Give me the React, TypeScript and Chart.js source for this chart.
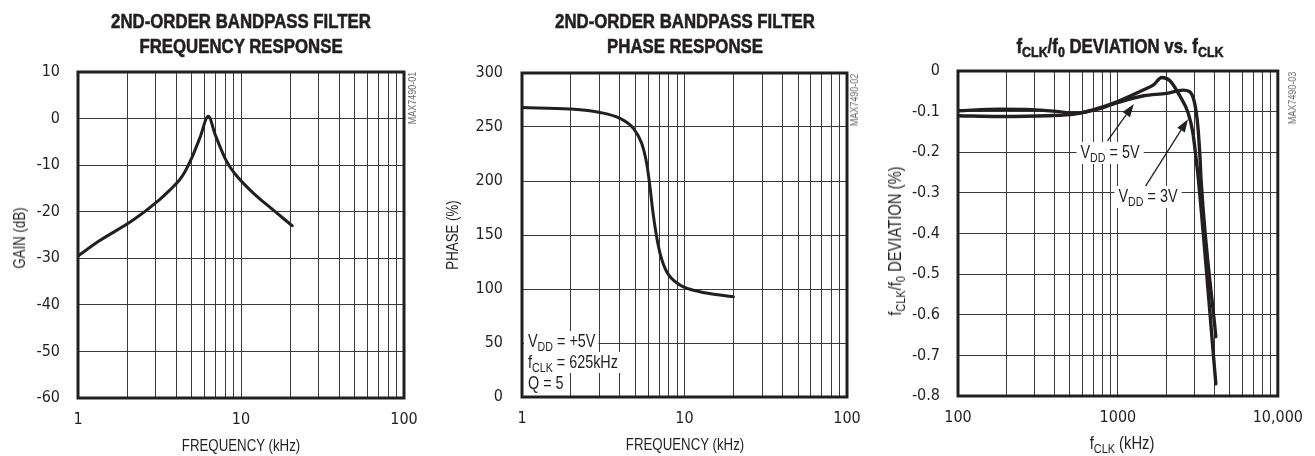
import React, { useEffect, useRef } from 'react';
import { Chart, registerables } from 'chart.js';

Chart.register(...registerables);

// ---------- data ----------
// Chart 1: gain vs frequency
const GAIN_FREQ_KHZ = [1, 1.36, 2.18, 3.14, 3.67, 4.19, 4.53, 4.98, 5.6, 6.3, 6.97, 8.0, 8.6, 9.56, 11.9, 14.4, 20.6];
const GAIN_DB = [-29.5, -26.2, -21.8, -17.5, -15.3, -13.2, -11.4, -8.5, -4.1, 0.5, -3.6, -8.6, -10.5, -12.6, -16.0, -18.5, -23.0];

// Chart 2: phase vs frequency
const PHASE_FREQ_KHZ = [1, 1.97, 3.02, 4.01, 4.84, 5.45, 5.85, 6.13, 6.37, 6.68, 7.07, 7.77, 9.38, 12.45, 16.5, 20];
const PHASE_VAL = [268, 266.7, 263.5, 258, 248.8, 235, 216.4, 194.8, 173, 151.6, 133, 116, 103.7, 97.5, 94.4, 92.8];

// Chart 3: fCLK/f0 deviation vs fCLK
const DEV_3V_FCLK = [100, 181, 289, 424, 537, 748, 993, 1450, 1670, 1880, 2115, 2436, 2743, 2943, 3085, 3187, 4096];
const DEV_3V_PCT = [-0.098, -0.094, -0.095, -0.1, -0.104, -0.092, -0.075, -0.046, -0.034, -0.016, -0.024, -0.061, -0.102, -0.152, -0.217, -0.267, -0.77];
const DEV_5V_FCLK = [100, 181, 368, 537, 748, 993, 1450, 2018, 2553, 2805, 3010, 3160, 3265, 3310, 4096];
const DEV_5V_PCT = [-0.11, -0.112, -0.11, -0.106, -0.094, -0.078, -0.061, -0.055, -0.047, -0.051, -0.077, -0.135, -0.217, -0.267, -0.654];

// tick values / labels
const FREQ_TICKS_KHZ = [1, 2, 3, 4, 5, 6, 7, 8, 9, 10, 20, 30, 40, 50, 60, 70, 80, 90, 100];
const FREQ_TICK_LABELS: Record<number, string> = { 1: '1', 10: '10', 100: '100' };
const FCLK_TICKS_KHZ = [100, 200, 300, 400, 500, 600, 700, 800, 900, 1000, 2000, 3000, 4000, 5000, 6000, 7000, 8000, 9000, 10000];
const FCLK_TICK_LABELS: Record<number, string> = { 100: '100', 1000: '1000', 10000: '10,000' };
const GAIN_RANGE = [-60, 10, 10];
const PHASE_RANGE = [0, 300, 50];
const DEV_RANGE = [-0.8, 0, 0.1];

// annotation arrows (data coordinates: [fCLK, deviation])
const ARROW_5V = { from: [861, -0.172], to: [1258, -0.0815] };
const ARROW_3V = { from: [1449, -0.291], to: [2743, -0.1185] };

// ---------- styles ----------
const TICK_FONT = "'DejaVu Sans Condensed', 'Liberation Sans', sans-serif";
const TEXT_FONT = "'Liberation Sans', Arial, sans-serif";
const INK = '#231f20';
const GRID = '#3a3a3a';

type Pt = { x: number; y: number };
const zip = (xs: number[], ys: number[]): Pt[] => xs.map((x, i) => ({ x, y: ys[i] }));

const framePlugin = {
  id: 'frame',
  beforeDatasetsDraw(chart: any) {
    const { ctx, chartArea: a } = chart;
    ctx.save();
    ctx.strokeStyle = INK;
    ctx.lineWidth = 3;
    ctx.strokeRect(a.left, a.top, a.right - a.left, a.bottom - a.top);
    ctx.restore();
  },
};

const makeArrowPlugin = (arrows: { from: number[]; to: number[] }[]) => ({
  id: 'arrows',
  afterDatasetsDraw(chart: any) {
    const { ctx } = chart;
    const xs = chart.scales.x;
    const ys = chart.scales.y;
    ctx.save();
    ctx.strokeStyle = INK;
    ctx.fillStyle = INK;
    ctx.lineWidth = 1.3;
    arrows.forEach((a) => {
      const x0 = xs.getPixelForValue(a.from[0]);
      const y0 = ys.getPixelForValue(a.from[1]);
      const x1 = xs.getPixelForValue(a.to[0]);
      const y1 = ys.getPixelForValue(a.to[1]);
      const ang = Math.atan2(y1 - y0, x1 - x0);
      const len = 13;
      const hw = 4.5;
      const bx = x1 - len * Math.cos(ang);
      const by = y1 - len * Math.sin(ang);
      ctx.beginPath();
      ctx.moveTo(x0, y0);
      ctx.lineTo(bx, by);
      ctx.stroke();
      ctx.beginPath();
      ctx.moveTo(x1, y1);
      ctx.lineTo(bx + hw * Math.sin(ang), by - hw * Math.cos(ang));
      ctx.lineTo(bx - hw * Math.sin(ang), by + hw * Math.cos(ang));
      ctx.closePath();
      ctx.fill();
    });
    ctx.restore();
  },
});

type Cfg = {
  series: Pt[][];
  lineWidth: number;
  xMin: number;
  xMax: number;
  xTicks: number[];
  xLabels: Record<number, string>;
  yRange: number[];
  yLabel: (v: number) => string;
  padRight: number;
  padTop: number;
  yWidth: number;
  xHeight: number;
  yTickPad: number;
  plugins?: any[];
};

function makeConfig(c: Cfg): any {
  return {
    type: 'line',
    data: {
      datasets: c.series.map((d) => ({
        data: d,
        borderColor: INK,
        borderWidth: c.lineWidth,
        pointRadius: 0,
        fill: false,
        cubicInterpolationMode: 'monotone',
        borderCapStyle: 'round',
        borderJoinStyle: 'round',
      })),
    },
    options: {
      animation: false,
      responsive: false,
      devicePixelRatio: 1,
      events: [],
      layout: { padding: { left: 0, right: c.padRight, top: c.padTop, bottom: 0 } },
      plugins: { legend: { display: false }, tooltip: { enabled: false }, title: { display: false } },
      scales: {
        x: {
          type: 'logarithmic',
          min: c.xMin,
          max: c.xMax,
          afterBuildTicks: (s: any) => {
            s.ticks = c.xTicks.map((v) => ({ value: v }));
          },
          afterFit: (s: any) => {
            s.height = c.xHeight;
          },
          ticks: {
            autoSkip: false,
            maxRotation: 0,
            minRotation: 0,
            padding: 12,
            color: INK,
            font: { family: TICK_FONT, size: 16 },
            callback: (v: any) => c.xLabels[Number(v)] ?? '',
          },
          grid: { color: GRID, lineWidth: 1, drawTicks: false },
          border: { display: false },
          title: { display: false },
        },
        y: {
          type: 'linear',
          min: c.yRange[0],
          max: c.yRange[1],
          afterFit: (s: any) => {
            s.width = c.yWidth;
          },
          ticks: {
            stepSize: c.yRange[2],
            padding: c.yTickPad,
            color: INK,
            font: { family: TICK_FONT, size: 16 },
            callback: (v: any) => c.yLabel(Number(v)),
          },
          grid: { color: GRID, lineWidth: 1, drawTicks: false },
          border: { display: false },
          title: { display: false },
        },
      },
    },
    plugins: [framePlugin, ...(c.plugins ?? [])],
  };
}

function ChartCanvas({ left, width, cfg }: { left: number; width: number; cfg: () => any }) {
  const ref = useRef<HTMLCanvasElement>(null);
  useEffect(() => {
    const chart = new Chart(ref.current as HTMLCanvasElement, cfg());
    return () => chart.destroy();
  }, []);
  return (
    <canvas
      ref={ref}
      width={width}
      height={456}
      style={{ position: 'absolute', left, top: 0, width, height: 456, display: 'block' }}
    />
  );
}

const Sub = ({ children }: { children: React.ReactNode }) => (
  <span style={{ fontSize: '0.74em', position: 'relative', top: '0.28em' }}>{children}</span>
);

function Title({ cx, top, children }: { cx: number; top: number; children: React.ReactNode }) {
  return (
    <div
      style={{
        position: 'absolute',
        left: cx - 250,
        width: 500,
        top,
        textAlign: 'center',
        fontFamily: TEXT_FONT,
        fontWeight: 700,
        fontSize: 21,
        lineHeight: '25px',
        color: INK,
        whiteSpace: 'nowrap',
        transform: 'scaleX(0.8)',
        transformOrigin: 'center top',
        WebkitTextStroke: '0.6px ' + INK,
      }}
    >
      {children}
    </div>
  );
}

function Label({
  cx,
  cy,
  rot = 0,
  size = 17,
  sx = 0.78,
  color = INK,
  bg,
  children,
}: {
  cx: number;
  cy: number;
  rot?: number;
  size?: number;
  sx?: number;
  color?: string;
  bg?: string;
  children: React.ReactNode;
}) {
  return (
    <div
      style={{
        position: 'absolute',
        left: cx,
        top: cy,
        transform: `translate(-50%, -50%) rotate(${rot}deg) scaleX(${sx})`,
        whiteSpace: 'nowrap',
        fontFamily: TEXT_FONT,
        fontSize: size,
        lineHeight: `${Math.round(size * 1.15)}px`,
        color,
        background: bg,
        padding: bg ? '0 5px' : 0,
      }}
    >
      {children}
    </div>
  );
}

const noteLine: React.CSSProperties = {
  display: 'inline-block',
  background: '#fff',
  padding: '0 4px 0 5px',
  lineHeight: '21px',
  height: 21,
};

export default function App() {
  const cfg1 = () =>
    makeConfig({
      series: [zip(GAIN_FREQ_KHZ, GAIN_DB)],
      lineWidth: 3,
      xMin: 1,
      xMax: 100,
      xTicks: FREQ_TICKS_KHZ,
      xLabels: FREQ_TICK_LABELS,
      yRange: GAIN_RANGE,
      yLabel: (v) => String(v),
      padRight: 36,
      padTop: 72,
      yWidth: 78,
      xHeight: 58,
      yTickPad: 18,
    });
  const cfg2 = () =>
    makeConfig({
      series: [zip(PHASE_FREQ_KHZ, PHASE_VAL)],
      lineWidth: 3,
      xMin: 1,
      xMax: 100,
      xTicks: FREQ_TICKS_KHZ,
      xLabels: FREQ_TICK_LABELS,
      yRange: PHASE_RANGE,
      yLabel: (v) => String(v),
      padRight: 33,
      padTop: 73,
      yWidth: 82,
      xHeight: 59,
      yTickPad: 19,
    });
  const cfg3 = () =>
    makeConfig({
      series: [zip(DEV_3V_FCLK, DEV_3V_PCT), zip(DEV_5V_FCLK, DEV_5V_PCT)],
      lineWidth: 3.4,
      xMin: 100,
      xMax: 10000,
      xTicks: FCLK_TICKS_KHZ,
      xLabels: FCLK_TICK_LABELS,
      yRange: DEV_RANGE,
      yLabel: (v) => (Math.abs(v) < 1e-9 ? '0' : v.toFixed(1)),
      padRight: 32,
      padTop: 71,
      yWidth: 78,
      xHeight: 60,
      yTickPad: 18,
      plugins: [makeArrowPlugin([ARROW_5V, ARROW_3V])],
    });

  return (
    <div style={{ position: 'absolute', left: 0, top: 0, width: 1315, height: 456, background: '#fff', overflow: 'hidden' }}>
      <ChartCanvas left={0} width={440} cfg={cfg1} />
      <ChartCanvas left={440} width={440} cfg={cfg2} />
      <ChartCanvas left={880} width={435} cfg={cfg3} />

      {/* titles */}
      <Title cx={241} top={8}>
        2ND-ORDER BANDPASS FILTER
        <br />
        FREQUENCY RESPONSE
      </Title>
      <Title cx={684.5} top={8}>
        2ND-ORDER BANDPASS FILTER
        <br />
        PHASE RESPONSE
      </Title>
      <Title cx={1120} top={33}>
        f<Sub>CLK</Sub>/f<Sub>0</Sub> DEVIATION vs. f<Sub>CLK</Sub>
      </Title>

      {/* axis titles */}
      <Label cx={20} cy={238} rot={-90}>GAIN (dB)</Label>
      <Label cx={241} cy={446}>FREQUENCY (kHz)</Label>
      <Label cx={453} cy={235} rot={-90}>PHASE (%)</Label>
      <Label cx={684.5} cy={445}>FREQUENCY (kHz)</Label>
      <Label cx={896} cy={241} rot={-90} size={18} sx={0.82}>
        f<Sub>CLK</Sub>/f<Sub>0</Sub> DEVIATION (%)
      </Label>
      <Label cx={1122} cy={444} size={18} sx={0.82}>
        f<Sub>CLK</Sub> (kHz)
      </Label>

      {/* part codes */}
      <Label cx={413} cy={98} rot={-90} size={10} sx={0.9} color="#6a6a6a">MAX7490-01</Label>
      <Label cx={855} cy={100} rot={-90} size={10} sx={0.9} color="#6a6a6a">MAX7490-02</Label>
      <Label cx={1293} cy={98} rot={-90} size={10} sx={0.9} color="#6a6a6a">MAX7490-03</Label>

      {/* chart 2 conditions */}
      <div
        style={{
          position: 'absolute',
          left: 524,
          top: 331,
          fontFamily: TEXT_FONT,
          fontSize: 18,
          color: INK,
          lineHeight: '21px',
          transform: 'scaleX(0.8)',
          transformOrigin: 'left top',
          whiteSpace: 'nowrap',
        }}
      >
        <div><span style={noteLine}>V<Sub>DD</Sub> = +5V</span></div>
        <div><span style={noteLine}>f<Sub>CLK</Sub> = 625kHz</span></div>
        <div><span style={noteLine}>Q = 5</span></div>
      </div>

      {/* chart 3 curve labels */}
      <Label cx={1110} cy={153} size={18} sx={0.8} bg="#fff">
        V<Sub>DD</Sub> = 5V
      </Label>
      <Label cx={1148} cy={197} size={18} sx={0.8} bg="#fff">
        V<Sub>DD</Sub> = 3V
      </Label>
    </div>
  );
}
